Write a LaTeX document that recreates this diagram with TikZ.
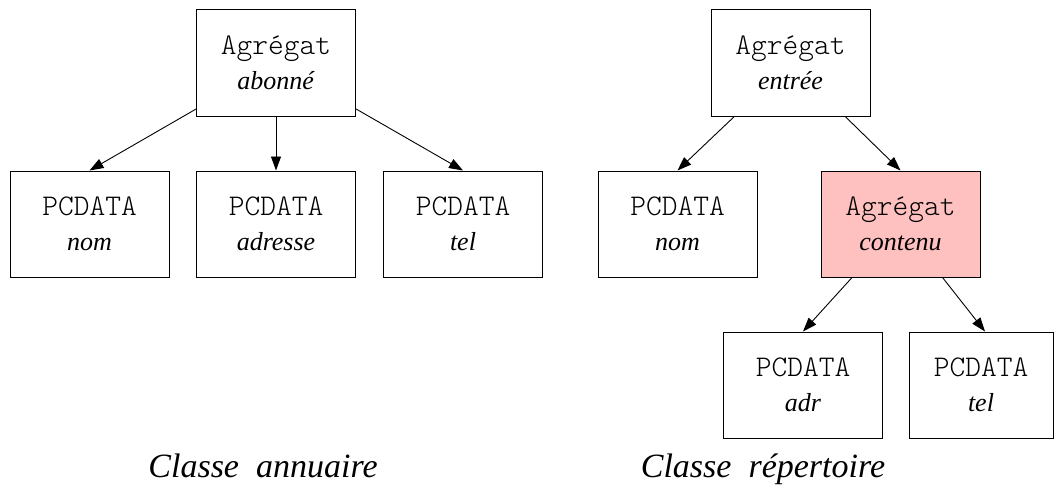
\documentclass[tikz,border=0pt]{standalone}
\usepackage{fontspec}
\setmainfont{Liberation Serif}
\newfontfamily\lighttt{Latin Modern Mono Light}
\usetikzlibrary{arrows.meta}
\definecolor{boxpink}{RGB}{255,192,192}
\newcommand{\mytt}[1]{{\fontsize{30}{35}\selectfont\lighttt #1}}
\begin{document}
\begin{tikzpicture}[x=1pt,y=-1pt,
  elem/.style={draw,line width=1pt,minimum width=159pt,minimum height=106pt,inner sep=0pt,align=center,font=\fontsize{26}{35}\selectfont},
  link/.style={line width=0.9pt,-{Triangle[length=14pt,width=10pt]}},
  caption/.style={anchor=base,font=\fontsize{34}{40}\selectfont\itshape}]
\useasboundingbox (0,0) rectangle (1055,487);
% left tree
\node[elem] (a1) at (276,63) {\mytt{Agrégat}\\\textit{abonné}};
\node[elem] (n1) at (89.5,224) {\mytt{PCDATA}\\\textit{nom}};
\node[elem] (ad) at (276,224) {\mytt{PCDATA}\\\textit{adresse}};
\node[elem] (t1) at (463,224) {\mytt{PCDATA}\\\textit{tel}};
\draw[link] (a1) -- (n1.north);
\draw[link] (a1) -- (ad.north);
\draw[link] (a1) -- (t1.north);
% right tree
\node[elem] (a2) at (790.5,63) {\mytt{Agrégat}\\\textit{entrée}};
\node[elem] (n2) at (677.5,224) {\mytt{PCDATA}\\\textit{nom}};
\node[elem,fill=boxpink] (c) at (900.5,224) {\mytt{Agrégat}\\\textit{contenu}};
\node[elem] (adr) at (803,385) {\mytt{PCDATA}\\\textit{adr}};
\node[elem,minimum width=144pt] (t2) at (981,385) {\mytt{PCDATA}\\\textit{tel}};
\draw[link] (a2) -- (n2.north);
\draw[link] (a2) -- (c.north);
\draw[link] (c) -- (adr.north);
\draw[link] (c) -- ([xshift=4pt]t2.north);
% captions
\node[caption] (cap1) at (263,477) {Classe\ \ annuaire};
\node[caption] (cap2) at (763,477) {Classe\ \ répertoire};
\end{tikzpicture}
\end{document}
